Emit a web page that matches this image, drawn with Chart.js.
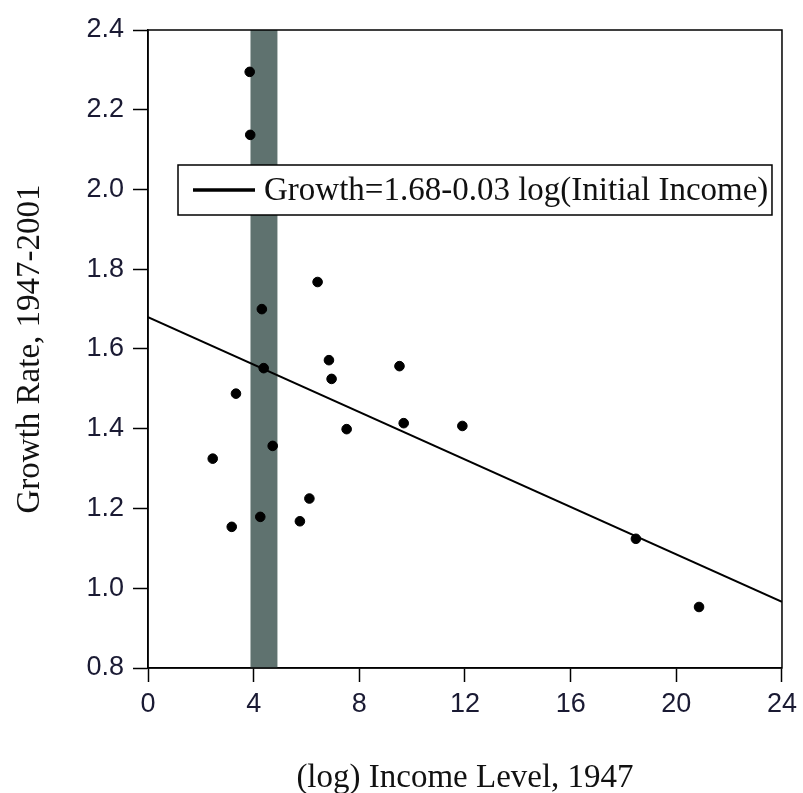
<!DOCTYPE html>
<html>
<head>
<meta charset="utf-8">
<script src="https://cdn.jsdelivr.net/npm/chart.js@4"></script>
<style>
  html, body { margin: 0; padding: 0; background: #fff; }
  #wrap { width: 803px; height: 793px; }
</style>
</head>
<body>
<div id="wrap"><canvas id="chart" width="803" height="793"></canvas></div>
<script>
// values
const incomeLevel = [3.85, 3.87, 6.42, 4.31, 6.85, 4.38, 9.52, 6.95, 3.33, 7.52, 9.68, 11.9, 4.72, 2.45, 6.11, 4.25, 5.75, 3.17, 18.47, 20.86]
const growthRate = [2.295, 2.137, 1.768, 1.70, 1.572, 1.552, 1.557, 1.525, 1.488, 1.399, 1.414, 1.407, 1.357, 1.325, 1.225, 1.179, 1.168, 1.154, 1.124, 0.953]
const fitX = [0, 24]
const fitY = [1.68, 0.966]
const band = [3.88, 4.9]
const xTicks = [0, 4, 8, 12, 16, 20, 24]
const yTicks = [0.8, 1.0, 1.2, 1.4, 1.6, 1.8, 2.0, 2.2, 2.4]
const fitLabel = 'Growth=1.68-0.03 log(Initial Income)'

const serif = '"Liberation Serif", "DejaVu Serif", serif'
const sans = '"Liberation Sans", Arial, sans-serif'

const bandPlugin = {
  id: 'band',
  beforeDatasetsDraw(chart) {
    const { ctx, chartArea, scales } = chart
    const x0 = scales.x.getPixelForValue(band[0])
    const x1 = scales.x.getPixelForValue(band[1])
    ctx.save()
    ctx.fillStyle = '#5f726f'
    ctx.fillRect(x0, chartArea.top, x1 - x0, chartArea.bottom - chartArea.top)
    ctx.restore()
  }
}

const frameAndLegend = {
  id: 'frameAndLegend',
  afterDatasetsDraw(chart) {
    const { ctx, chartArea } = chart
    ctx.save()
    ctx.strokeStyle = '#000'
    ctx.lineWidth = 1.5
    ctx.strokeRect(chartArea.left, chartArea.top, chartArea.right - chartArea.left, chartArea.bottom - chartArea.top)

    // legend box
    const bx = chartArea.left + 30
    const by = chartArea.top + 135
    const bw = chartArea.right - 10 - bx
    const bh = 50
    ctx.fillStyle = '#fff'
    ctx.fillRect(bx, by, bw, bh)
    ctx.lineWidth = 1.5
    ctx.strokeRect(bx, by, bw, bh)
    ctx.lineWidth = 3.5
    ctx.beginPath()
    ctx.moveTo(bx + 15, by + bh / 2)
    ctx.lineTo(bx + 77, by + bh / 2)
    ctx.stroke()
    ctx.fillStyle = '#111'
    ctx.font = '33px ' + serif
    ctx.textBaseline = 'middle'
    ctx.fillText(chart.data.datasets[1].label, bx + 86, by + bh / 2 + 1)
    ctx.restore()
  }
}

const chart = new Chart(document.getElementById('chart'), {
  type: 'scatter',
  data: {
    datasets: [{
      label: 'countries',
      data: incomeLevel.map((x, i) => ({ x, y: growthRate[i] })),
      backgroundColor: '#000',
      borderColor: '#000',
      pointRadius: 4.8,
      pointHoverRadius: 4.8
    }, {
      label: fitLabel,
      type: 'line',
      data: fitX.map((x, i) => ({ x, y: fitY[i] })),
      borderColor: '#000',
      borderWidth: 2,
      pointRadius: 0,
      fill: false
    }]
  },
  options: {
    responsive: false,
    animation: false,
    layout: { padding: { top: 30, right: 20, left: 0, bottom: 0 } },
    plugins: {
      legend: { display: false },
      tooltip: { enabled: false }
    },
    scales: {
      x: {
        type: 'linear',
        min: 0,
        max: 24,
        afterFit: (scale) => { scale.height = 125 },
        afterBuildTicks: (scale) => { scale.ticks = xTicks.map(v => ({ value: v })) },
        ticks: {
          color: '#1a1a33',
          font: { family: sans, size: 27 },
          padding: 6,
          callback: (v) => String(v)
        },
        grid: { drawOnChartArea: false, drawTicks: true, tickLength: 14, tickColor: '#000', tickWidth: 1.5 },
        border: { display: true, color: '#000', width: 1.5 },
        title: {
          display: true,
          text: '(log) Income Level, 1947',
          color: '#111',
          font: { family: serif, size: 33, lineHeight: 0.9 },
          padding: { top: 0, bottom: 0 }
        }
      },
      y: {
        min: 0.8,
        max: 2.4,
        afterFit: (scale) => { scale.width = 148 },
        afterBuildTicks: (scale) => { scale.ticks = yTicks.map(v => ({ value: v })) },
        ticks: {
          color: '#1a1a33',
          font: { family: sans, size: 27 },
          padding: 9,
          callback: (v) => v.toFixed(1)
        },
        grid: { drawOnChartArea: false, drawTicks: true, tickLength: 15, tickColor: '#000', tickWidth: 1.5 },
        border: { display: true, color: '#000', width: 1.5 },
        title: {
          display: true,
          text: 'Growth Rate, 1947-2001',
          color: '#111',
          font: { family: serif, size: 33, lineHeight: 1 },
          padding: { top: 14, bottom: 0 }
        }
      }
    }
  },
  plugins: [bandPlugin, frameAndLegend]
})
</script>
</body>
</html>
